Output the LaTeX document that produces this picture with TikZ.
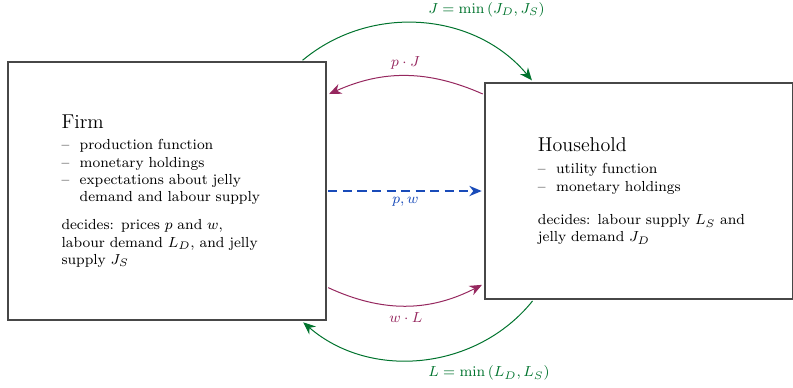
\documentclass[tikz,border=0pt]{standalone}
\usepackage{amsmath,amssymb}
\usepackage{xcolor}
\usepackage{tikz}
\usetikzlibrary{arrows.meta}
\definecolor{goodsgreen}{RGB}{0,115,45}
\definecolor{moneyplum}{RGB}{150,40,95}
\definecolor{infoblue}{RGB}{25,75,185}
\newcommand{\dashitem}[1]{\par\hangindent=10pt\hangafter=1\noindent\makebox[10pt][l]{--}#1}
\newcommand{\agenttitle}[1]{{\fontsize{11}{13}\selectfont #1\par}}
\hyphenpenalty=10000
\exhyphenpenalty=10000

\begin{document}
\begin{tikzpicture}[
  x=0.55pt, y=0.55pt,
  agent/.style={draw=black!72, line width=0.6pt, align=left, font=\footnotesize,
                text width=113pt, inner sep=0pt},
  arr/.style={-{Stealth[length=2.4mm, width=2mm]}, line width=0.55pt,
              shorten <=1pt, shorten >=1.5pt},
  goods/.style={arr, goodsgreen},
  money/.style={arr, moneyplum},
  info/.style={arr, infoblue, line width=0.65pt, dash pattern=on 5pt off 3pt},
  lbl/.style={font=\footnotesize}
]
\useasboundingbox (0,0) rectangle (793,387);
\node[agent, minimum width=174.9pt, minimum height=141.9pt] (firm) at (167,196) {%
  \leftskip=-1.5pt
  \agenttitle{Firm}\vspace{2.5pt}
  \dashitem{production function}
  \dashitem{monetary holdings}
  \dashitem{expectations about jelly demand and labour supply}\par
  \vspace{6pt}\noindent decides: prices $p$ and $w$, labour demand $L_D$, and jelly supply $J_S$\par};
\node[agent, text width=124pt, minimum width=168.9pt, minimum height=118.8pt] (hh) at (638.5,196) {%
  \leftskip=6.7pt
  \agenttitle{Household}\vspace{3pt}
  \dashitem{utility function}
  \dashitem{monetary holdings}\par
  \vspace{9pt}\noindent decides: labour supply $L_S$ and jelly demand $J_D$\par};
\draw[goods] (firm.44) to[bend left=45]
  node[midway, above right, lbl] {$J = \min\left(J_D, J_S\right)$} (hh.134);
\draw[money] (hh.148.5) to[bend right=24] node[midway, above, lbl] {$p \cdot J$} (firm.31);
\draw[info] (firm.east) -- node[midway, below, lbl] {$p, w$} (hh.west);
\draw[money] (firm.-31) to[bend right=26] node[midway, below, lbl] {$w \cdot L$} (hh.211.5);
\draw[goods] (hh.226) to[bend left=46]
  node[midway, below right, lbl] {$L = \min\left(L_D, L_S\right)$} (firm.-44);
\end{tikzpicture}
\end{document}
